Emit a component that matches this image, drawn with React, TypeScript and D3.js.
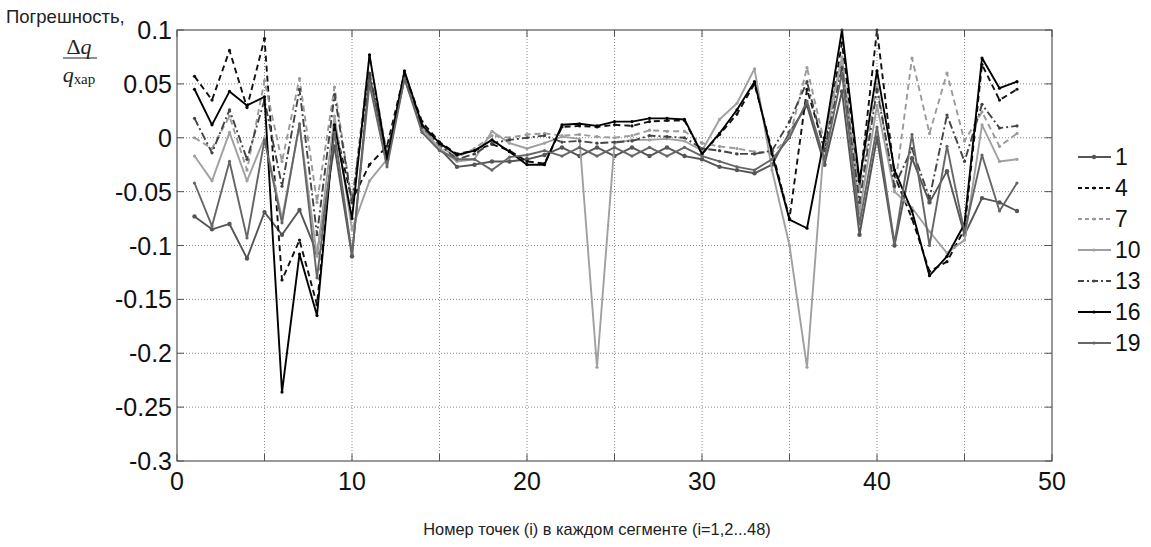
import React from 'react';
import * as d3 from 'd3';

const W = 1151;
const H = 547;
const M = { left: 177, right: 1052, top: 30, bottom: 461 };

const pointIndex = d3.range(1, 49);

const xTicks = [0, 10, 20, 30, 40, 50];
const xGrid = [5, 10, 15, 20, 25, 30, 35, 40, 45];
const yTicks = [0.1, 0.05, 0, -0.05, -0.1, -0.15, -0.2, -0.25, -0.3];
const yTickLabels = ['0.1', '0.05', '0', '-0.05', '-0.1', '-0.15', '-0.2', '-0.25', '-0.3'];

const seriesNames = ['1', '4', '7', '10', '13', '16', '19'];

// погрешности по точкам сегмента (i = 1..48)
const s1 = [
  -0.073, -0.085, -0.08, -0.112, -0.069, -0.09, -0.067, -0.107, -0.008, -0.11, 0.058, -0.02,
  0.055, 0.008, -0.01, -0.027, -0.025, -0.022, -0.022, -0.02, -0.016, -0.009, -0.017, -0.009,
  -0.017, -0.009, -0.017, -0.009, -0.017, -0.02, -0.027, -0.03, -0.033, -0.025, 0.005, 0.03,
  -0.025, 0.043, -0.09, 0.0, -0.1, -0.019, -0.06, -0.031, -0.09, -0.056, -0.06, -0.068,
];
const s4 = [
  0.057, 0.035, 0.081, 0.028, 0.092, -0.132, -0.095, -0.155, 0.012, -0.058, -0.025, -0.008,
  0.06, 0.015, -0.004, -0.015, -0.012, -0.006, -0.012, -0.022, -0.024, 0.01, 0.011, 0.01,
  0.012, 0.011, 0.015, 0.016, 0.016, -0.015, 0.003, 0.022, 0.05, -0.012, -0.075, 0.045,
  -0.01, 0.088, -0.045, 0.1, -0.035, -0.075, -0.124, -0.115, -0.085, 0.068, 0.035, 0.045,
];
const s7 = [
  0.0, -0.01, 0.02, -0.03, 0.053, -0.022, 0.055, -0.06, 0.047, -0.06, 0.075, -0.015,
  0.057, 0.01, -0.008, -0.018, -0.01, 0.002, 0.0, 0.003, 0.004, 0.002, 0.003, 0.001,
  0.0, 0.002, 0.007, 0.006, 0.006, -0.005, -0.008, -0.01, -0.013, -0.014, 0.0, 0.065,
  -0.005, 0.07, -0.05, 0.05, -0.05, 0.074, 0.004, 0.06, -0.003, 0.024, -0.008, 0.004,
];
const s10 = [
  -0.017, -0.04, 0.005, -0.04, 0.0, -0.075, 0.012, -0.11, 0.02, -0.085, -0.04, -0.02,
  0.055, 0.008, -0.01, -0.022, -0.02, 0.006, -0.005, -0.01, -0.005, 0.001, -0.001, -0.213,
  -0.005, -0.002, -0.002, -0.001, -0.003, -0.012, 0.017, 0.032, 0.064, -0.03, -0.1, -0.213,
  0.0, 0.075, -0.07, 0.03, -0.05, -0.065, -0.087, -0.107, -0.095, 0.012, -0.022, -0.02,
];
const s13 = [
  0.018, -0.014, 0.026, -0.02, 0.035, -0.045, 0.045, -0.09, 0.04, -0.06, 0.06, -0.015,
  0.058, 0.01, -0.006, -0.02, -0.015, -0.005, -0.002, 0.0, 0.002, -0.004, -0.003, -0.005,
  -0.004, -0.003, 0.002, 0.001, 0.0, -0.01, -0.012, -0.015, -0.015, -0.012, 0.015, 0.052,
  -0.012, 0.065, -0.06, 0.045, -0.045, -0.01, -0.056, 0.021, -0.022, 0.031, 0.009, 0.011,
];
const s16 = [
  0.045, 0.012, 0.043, 0.03, 0.038, -0.236, -0.108, -0.165, 0.012, -0.075, 0.077, -0.02,
  0.062, 0.012, -0.005, -0.016, -0.012, -0.002, -0.013, -0.025, -0.025, 0.012, 0.013, 0.011,
  0.015, 0.015, 0.018, 0.018, 0.017, -0.015, 0.004, 0.026, 0.052, -0.015, -0.076, -0.084,
  0.0, 0.1, -0.04, 0.062, -0.03, -0.068, -0.128, -0.11, -0.08, 0.074, 0.046, 0.052,
];
const s19 = [
  -0.042, -0.082, -0.022, -0.093, -0.002, -0.079, 0.013, -0.13, 0.005, -0.108, 0.05, -0.027,
  0.055, 0.005, -0.012, -0.02, -0.02, -0.03, -0.018, -0.016, -0.012, -0.017, -0.009, -0.017,
  -0.009, -0.017, -0.009, -0.017, -0.009, -0.017, -0.022, -0.027, -0.03, -0.02, 0.0, 0.034,
  -0.02, 0.06, -0.08, 0.01, -0.098, 0.003, -0.1, -0.008, -0.088, -0.016, -0.068, -0.042,
];

const seriesValues = [s1, s4, s7, s10, s13, s16, s19];
const seriesColors = ['#555555', '#111111', '#9a9a9a', '#a0a0a0', '#444444', '#000000', '#666666'];
const seriesDash = [null, '6,4', '6,4', null, '8,3,2,3', null, null];
const legendDash = [null, '4,3', '4,3', null, '6,3,2,3', null, null];
const seriesDot = [2.2, 1.6, 1.6, 1.6, 1.6, 1.6, 1.6];

const x = d3.scaleLinear().domain([0, 50]).range([M.left, M.right]);
const y = d3.scaleLinear().domain([-0.3, 0.1]).range([M.bottom, M.top]);

const lineGen = d3
  .line<number>()
  .x((_, i) => x(pointIndex[i]))
  .y((v) => y(v));

const sans = 'Arial, "Liberation Sans", Helvetica, sans-serif';
const serif = '"Liberation Serif", "DejaVu Serif", "Times New Roman", serif';

export default function App() {
  const legendY = d3.scalePoint<string>().domain(seriesNames).range([157, 343]);

  return (
    <svg
      width={W}
      height={H}
      viewBox={`0 0 ${W} ${H}`}
      style={{ position: 'absolute', left: 0, top: 0, background: '#fff' }}
    >
      <rect x={0} y={0} width={W} height={H} fill="#fff" />

      {/* сетка */}
      <g stroke="#8a8a8a" strokeWidth={1} strokeDasharray="1,2">
        {xGrid.map((t) => (
          <line key={`gx${t}`} x1={x(t)} x2={x(t)} y1={M.top} y2={M.bottom} />
        ))}
        {yTicks.slice(1, -1).map((t) => (
          <line key={`gy${t}`} x1={M.left} x2={M.right} y1={y(t)} y2={y(t)} />
        ))}
      </g>

      {/* кривые */}
      {seriesValues.map((vals, k) => (
        <g key={seriesNames[k]}>
          <path
            d={lineGen(vals) || ''}
            fill="none"
            stroke={seriesColors[k]}
            strokeWidth={1.9}
            strokeDasharray={seriesDash[k] || undefined}
            strokeLinejoin="round"
          />
          {vals.map((v, i) => (
            <circle key={i} cx={x(pointIndex[i])} cy={y(v)} r={seriesDot[k]} fill={seriesColors[k]} />
          ))}
        </g>
      ))}

      {/* рамка и засечки */}
      <rect
        x={M.left}
        y={M.top}
        width={M.right - M.left}
        height={M.bottom - M.top}
        fill="none"
        stroke="#555"
        strokeWidth={1.2}
      />
      <g stroke="#555" strokeWidth={1}>
        {[0, ...xGrid, 50].map((t) => (
          <g key={`tx${t}`}>
            <line x1={x(t)} x2={x(t)} y1={M.bottom} y2={M.bottom - 7} />
            <line x1={x(t)} x2={x(t)} y1={M.top} y2={M.top + 7} />
          </g>
        ))}
        {yTicks.map((t) => (
          <g key={`ty${t}`}>
            <line x1={M.left} x2={M.left + 7} y1={y(t)} y2={y(t)} />
            <line x1={M.right} x2={M.right - 7} y1={y(t)} y2={y(t)} />
          </g>
        ))}
      </g>

      {/* подписи осей */}
      <g fontFamily={sans} fontSize={25} fill="#111">
        {yTicks.map((t, i) => (
          <text key={`ly${t}`} x={M.left - 5} y={y(t) + 9} textAnchor="end">
            {yTickLabels[i]}
          </text>
        ))}
        {xTicks.map((t) => (
          <text key={`lx${t}`} x={x(t)} y={M.bottom + 29} textAnchor="middle">
            {t}
          </text>
        ))}
      </g>

      <text x={597} y={535} textAnchor="middle" fontFamily={sans} fontSize={16.4} fill="#222">
        Номер точек (i) в каждом сегменте (i=1,2...48)
      </text>

      <text x={6} y={23} fontFamily={sans} fontSize={18.5} fill="#222">
        Погрешность,
      </text>
      <text x={79} y={54} textAnchor="middle" fontFamily={serif} fontSize={22} fill="#222">
        Δ<tspan fontStyle="italic">q</tspan>
      </text>
      <line x1={63} x2={97} y1={58} y2={58} stroke="#222" strokeWidth={1.2} />
      <text x={79} y={82} textAnchor="middle" fontFamily={serif} fill="#222">
        <tspan fontSize={22} fontStyle="italic">q</tspan>
        <tspan fontSize={15} dy={2}>хар</tspan>
      </text>

      {/* легенда */}
      {seriesNames.map((name, k) => {
        const ly = legendY(name) || 0;
        return (
          <g key={`leg${name}`}>
            <line
              x1={1078}
              x2={1111}
              y1={ly}
              y2={ly}
              stroke={seriesColors[k]}
              strokeWidth={1.8}
              strokeDasharray={legendDash[k] || undefined}
            />
            <circle cx={1094} cy={ly} r={seriesDot[k]} fill={seriesColors[k]} />
            <text x={1115} y={ly + 8} fontFamily={sans} fontSize={23} fill="#111">
              {name}
            </text>
          </g>
        );
      })}
    </svg>
  );
}
